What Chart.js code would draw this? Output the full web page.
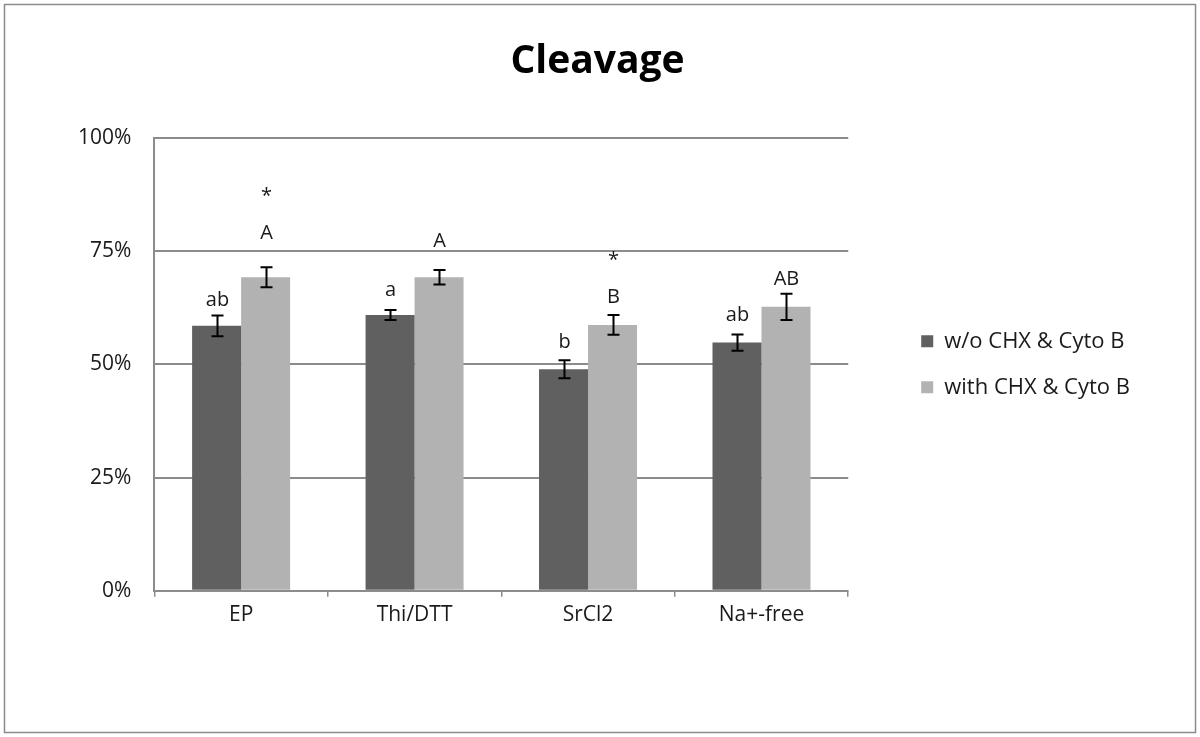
<!DOCTYPE html>
<html>
<head>
<meta charset="utf-8">
<script src="https://cdn.jsdelivr.net/npm/chart.js@4/dist/chart.umd.min.js"></script>
<style>
  html, body { margin: 0; padding: 0; background: #fff; }
</style>
</head>
<body>
<canvas id="chart" width="1200" height="737"></canvas>
<script>
"use strict";

var categories = ["EP", "Thi/DTT", "SrCl2", "Na+-free"];
var seriesNames = ["w/o CHX & Cyto B", "with CHX & Cyto B"];
var withoutValues = [58.5, 60.9, 48.9, 54.8];
var withValues = [69.2, 69.2, 58.7, 62.7];
var withoutErrors = [2.3, 1.1, 2.0, 1.8];
var withErrors = [2.2, 1.6, 2.2, 2.9];
var withoutLetters = ["ab", "a", "b", "ab"];
var withLetters = ["A", "A", "B", "AB"];
var withStars = ["*", "", "*", ""];
var yTicks = [0, 25, 50, 75, 100];

var fontFamily = "'Open Sans', 'Noto Sans', sans-serif";
var darkGrey = "#606060";
var lightGrey = "#b2b2b2";
var axisGrey = "#8c8c8c";

// white page with the thin frame round it
var framePlugin = {
  id: "frame",
  beforeDraw: function(chart) {
    var ctx = chart.ctx;
    ctx.save();
    ctx.fillStyle = "#fff";
    ctx.fillRect(0, 0, chart.width, chart.height);
    ctx.strokeStyle = axisGrey;
    ctx.lineWidth = 1.5;
    ctx.strokeRect(4.5, 4.5, chart.width - 9, chart.height - 9);
    ctx.restore();
  }
};

// error bars plus the letters / stars above them
var errorBarPlugin = {
  id: "errorBars",
  afterDatasetsDraw: function(chart, args, opts) {
    var ctx = chart.ctx;
    var yScale = chart.scales.y;
    ctx.save();
    chart.data.datasets.forEach(function(ds, i) {
      var meta = chart.getDatasetMeta(i);
      meta.data.forEach(function(bar, j) {
        var v = ds.data[j];
        var e = ds.errors[j];
        var yTop = yScale.getPixelForValue(v + e);
        var yBot = yScale.getPixelForValue(v - e);
        var x = Math.round(bar.x) + 0.5;
        ctx.strokeStyle = "#000";
        ctx.lineWidth = 2;
        ctx.beginPath();
        ctx.moveTo(x, yTop);
        ctx.lineTo(x, yBot);
        ctx.moveTo(x - 6, yTop);
        ctx.lineTo(x + 6, yTop);
        ctx.moveTo(x - 6, yBot);
        ctx.lineTo(x + 6, yBot);
        ctx.stroke();

        ctx.fillStyle = "#1a1a1a";
        ctx.font = "20px " + fontFamily;
        ctx.textAlign = "center";
        ctx.textBaseline = "middle";
        var letterY = yTop - opts.letterGap[i][j];
        ctx.fillText(ds.letters[j], x, letterY);
        if (ds.stars && ds.stars[j]) {
          ctx.fillText(ds.stars[j], x, letterY - opts.starGap);
        }
      });
    });
    ctx.restore();
  }
};

new Chart(document.getElementById("chart"), {
  type: "bar",
  data: {
    labels: categories,
    datasets: [
      {
        label: seriesNames[0],
        data: withoutValues,
        errors: withoutErrors,
        letters: withoutLetters,
        backgroundColor: darkGrey,
        categoryPercentage: 0.565,
        barPercentage: 1.0
      },
      {
        label: seriesNames[1],
        data: withValues,
        errors: withErrors,
        letters: withLetters,
        stars: withStars,
        backgroundColor: lightGrey,
        categoryPercentage: 0.565,
        barPercentage: 1.0
      }
    ]
  },
  options: {
    responsive: false,
    animation: false,
    devicePixelRatio: 1,
    layout: {
      padding: { top: 0, left: 55, right: 60, bottom: 103 }
    },
    plugins: {
      title: {
        display: true,
        text: "Cleavage",
        color: "#000",
        font: { family: fontFamily, size: 39, weight: "bold" },
        padding: { top: 38, bottom: 53 }
      },
      legend: {
        position: "right",
        align: "center",
        fullSize: false,
        maxWidth: 320,
        labels: {
          boxWidth: 12,
          boxHeight: 12,
          padding: 24,
          color: "#1a1a1a",
          font: { family: fontFamily, size: 22 }
        }
      },
      tooltip: { enabled: false },
      errorBars: {
        letterGap: [[15, 20, 18, 19], [34, 29, 18, 14]],
        starGap: 37
      }
    },
    scales: {
      x: {
        grid: {
          display: true,
          offset: true,
          drawOnChartArea: false,
          drawTicks: true,
          tickLength: 6,
          color: axisGrey,
          lineWidth: 1.5
        },
        border: { display: true, color: axisGrey, width: 2 },
        ticks: {
          color: "#1a1a1a",
          padding: 6,
          font: { family: fontFamily, size: 21 }
        }
      },
      y: {
        min: 0,
        max: 100,
        afterBuildTicks: function(axis) {
          axis.ticks = yTicks.map(function(v) { return { value: v }; });
        },
        grid: {
          color: axisGrey,
          lineWidth: 2,
          drawTicks: false
        },
        border: { display: true, color: axisGrey, width: 2 },
        ticks: {
          color: "#1a1a1a",
          padding: 23,
          font: { family: fontFamily, size: 21 },
          callback: function(v) { return v + "%"; }
        }
      },
      // empty strip between the plot and the legend
      gap: {
        type: "linear",
        position: "right",
        grid: { display: false },
        border: { display: false },
        ticks: { display: false },
        afterFit: function(axis) { axis.width = 49; }
      }
    }
  },
  plugins: [framePlugin, errorBarPlugin]
});
</script>
</body>
</html>
